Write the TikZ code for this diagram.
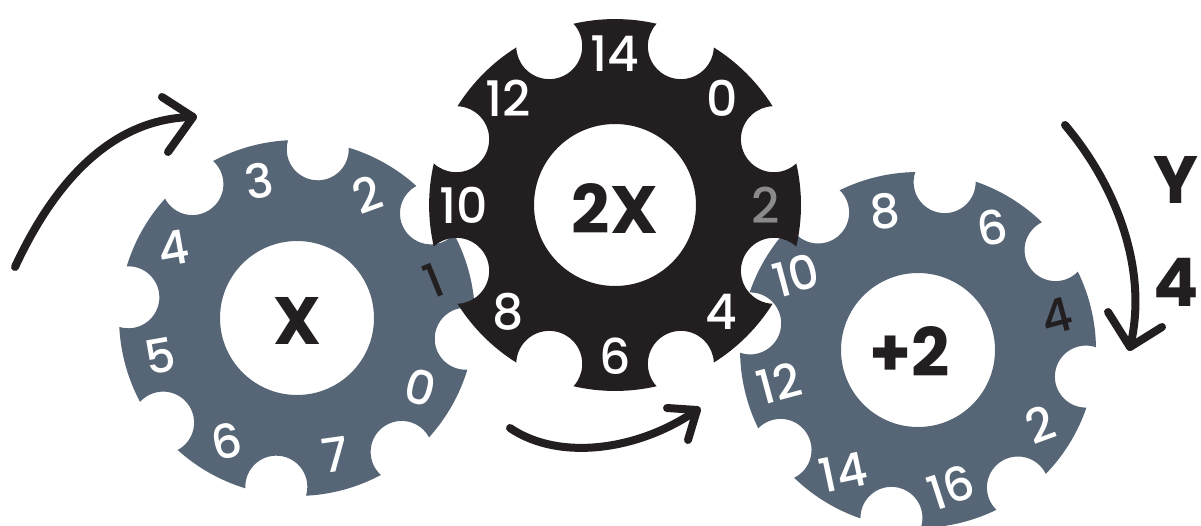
\documentclass[tikz,border=0pt]{standalone}
\usepackage{fontspec}
\setmainfont{Poppins}
\newfontfamily\medfont{Poppins Medium}
\definecolor{gearg}{HTML}{566676}
\definecolor{gearb}{HTML}{231F20}
\definecolor{midg}{HTML}{8A8A8A}
\tikzset{
  dig/.style={text=white, inner sep=0pt, font=\medfont\fontsize{47}{47}\selectfont},
  bdig/.style={text=white, inner sep=0pt, font=\medfont\fontsize{49}{49}\selectfont},
  big/.style={text=gearb, inner sep=0pt, font=\fontsize{67}{67}\selectfont\bfseries},
  arr/.style={draw=gearb, line width=8pt, line cap=round, line join=round},
}
\begin{document}
\begin{tikzpicture}[x=1pt,y=1pt]
\useasboundingbox (0,0) rectangle (1201,-525);
\coordinate (L) at (297,-318);
\coordinate (M) at (615,-205);
\coordinate (R) at (918,-350);

% left gear (outer R=178, notch centre 170, notch r=31)
\fill[gearg, even odd rule] ([shift={(38-9.88:178)}]L)
  \foreach \a in {38,83,...,353} {
    arc[start angle={\a+280}, end angle={\a+80}, radius=31]
    arc[start angle={\a+9.88}, end angle={\a+45-9.88}, radius=178]
  } -- cycle
  (L) circle (77);
\node[dig, rotate=-15] (l0) at ([shift={(330.5:142)}]L) {0};
\node[dig, rotate=22, text=gearb] (l1) at ([shift={(15.5:142)}]L) {1};
\node[dig, rotate=20] (l2) at ([shift={(60.5:142)}]L) {2};
\node[dig, rotate=10] (l3) at ([shift={(105.5:142)}]L) {3};
\node[dig, rotate=10] (l4) at ([shift={(150.5:142)}]L) {4};
\node[dig, rotate=10] (l5) at ([shift={(195.5:142)}]L) {5};
\node[dig, rotate=12] (l6) at ([shift={(240.5:142)}]L) {6};
\node[dig, rotate=8] (l7) at ([shift={(285.5:142)}]L) {7};

% right gear
\fill[gearg, even odd rule] ([shift={(36-9.88:178)}]R)
  \foreach \a in {36,81,...,351} {
    arc[start angle={\a+280}, end angle={\a+80}, radius=31]
    arc[start angle={\a+9.88}, end angle={\a+45-9.88}, radius=178]
  } -- cycle
  (R) circle (77);
\node[dig, rotate=15, text=gearb] (r4) at ([shift={(13.5:143)}]R) {4};
\node[dig, rotate=10] (r6) at ([shift={(58.5:143)}]R) {6};
\node[dig, rotate=5] (r8) at ([shift={(103.5:143)}]R) {8};
\node[dig, rotate=15] (r10) at ([shift={(148.5:143)}]R) {10};
\node[dig, rotate=15] (r12) at ([shift={(193.5:143)}]R) {12};
\node[dig, rotate=12] (r14) at ([shift={(238.5:143)}]R) {14};
\node[dig, rotate=18] (r16) at ([shift={(283.5:141)}]R) {16};
\node[dig, rotate=20] (r2) at ([shift={(328.5:143)}]R) {2};

% middle gear (outer R=186, notch centre 172, notch r=33)
\fill[gearb, even odd rule] ([shift={(22.5-9.59:186)}]M)
  \foreach \a in {22.5,67.5,...,337.5} {
    arc[start angle={\a+290.2}, end angle={\a+69.8}, radius=33]
    arc[start angle={\a+9.59}, end angle={\a+45-9.59}, radius=186]
  } -- cycle
  (M) circle (81);
\node[bdig] (m0) at ([shift={(45:151)}]M) {0};
\node[bdig, text=midg] (m2) at ([shift={(0:151)}]M) {2};
\node[bdig] (m4) at ([shift={(-45:151)}]M) {4};
\node[bdig] (m6) at ([shift={(-90:151)}]M) {6};
\node[bdig] (m8) at ([shift={(-135:151)}]M) {8};
\node[bdig] (m10) at ([shift={(180:151)}]M) {10};
\node[bdig] (m12) at ([shift={(135:151)}]M) {12};
\node[bdig] (m14) at ([shift={(90:151)}]M) {14};

% centre labels
\node[big] (lx) at ([shift={(0,-3)}]L) {X};
\node[big] (mx) at ([shift={(0,-4)}]M) {2X};
\node[big] (rx) at ([shift={(-8,-2)}]R) {+2};

% right labels
\node[big, anchor=west] (ylab) at (1153,-180) {Y};
\node[big, anchor=west] (flab) at (1153,-282) {4};

% arrows
\coordinate (a1s) at (15,-267);
\coordinate (a1t) at (193,-117);
\coordinate (a1u) at (162,-97);
\coordinate (a1v) at (168,-152);
\draw[arr] (a1s) .. controls (60,-170) and (120,-118) .. (a1t);
\draw[arr] (a1u) -- (a1t) -- (a1v);

\coordinate (a2s) at (510,-428);
\coordinate (a2t) at (697,-410);
\coordinate (a2u) at (667,-408);
\coordinate (a2v) at (688,-440);
\draw[arr] (a2s) .. controls (560,-462) and (640,-450) .. (a2t);
\draw[arr] (a2u) -- (a2t) -- (a2v);

\coordinate (a3s) at (1065,-125);
\coordinate (a3t) at (1130,-347);
\coordinate (a3u) at (1108,-312);
\coordinate (a3v) at (1162,-327);
\draw[arr] (a3s) .. controls (1120,-190) and (1148,-275) .. (a3t);
\draw[arr] (a3u) -- (a3t) -- (a3v);
\end{tikzpicture}
\end{document}
